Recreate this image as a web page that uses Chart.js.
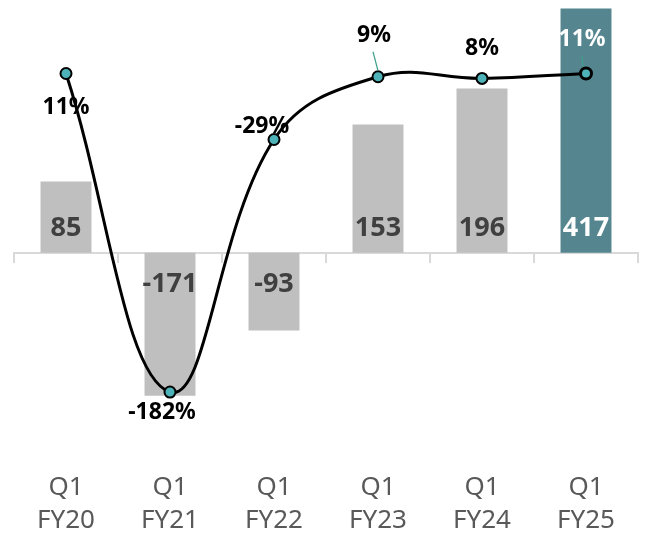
<!DOCTYPE html>
<html>
<head>
<meta charset="utf-8">
<script src="https://cdn.jsdelivr.net/npm/chart.js@4/dist/chart.umd.min.js"></script>
<style>
  html, body { margin: 0; padding: 0; background: #ffffff; }
  #wrap { width: 648px; height: 537px; }
</style>
</head>
<body>
<div id="wrap"><canvas id="c" width="648" height="537"></canvas></div>
<script>
// ---- Data ----
const quarters = ['Q1', 'Q1', 'Q1', 'Q1', 'Q1', 'Q1'];
const fiscalYears = ['FY20', 'FY21', 'FY22', 'FY23', 'FY24', 'FY25'];
const barValues = [85, -171, -93, 153, 196, 417];
const marginPct = [11, -182, -29, 9, 8, 11];

const labels = quarters.map((q, i) => [q, fiscalYears[i]]);

// ---- Styles ----
const GRAY_BAR = '#BFBFBF';
const TEAL_BAR = '#55868F';
const barColors = barValues.map((v, i) => i === barValues.length - 1 ? TEAL_BAR : GRAY_BAR);
const barLabelColors = barValues.map((v, i) => i === barValues.length - 1 ? '#FFFFFF' : '#404040');
const pctLabelColors = marginPct.map((v, i) => i === marginPct.length - 1 ? '#FFFFFF' : '#000000');
// label placement relative to each line point (dx, dy of text centre)
const pctOffsets = [[0, 34], [-8, 20], [-12, -13], [-4, -41], [0, -30], [-4, -34]];
const leaderLines = { 3: [[-5, -25], [0, -6]], 5: [[-4, -17], [-3, -7]] };

const labelPlugin = {
  id: 'valueLabels',
  afterDatasetsDraw(chart) {
    const ctx = chart.ctx;
    const yScale = chart.scales.y;
    const zeroY = yScale.getPixelForValue(0);
    const barMeta = chart.getDatasetMeta(1);
    const lineMeta = chart.getDatasetMeta(0);
    ctx.save();
    ctx.textAlign = 'center';
    ctx.textBaseline = 'middle';
    // bar labels
    ctx.font = 'bold 27px "Noto Sans"';
    barMeta.data.forEach((bar, i) => {
      const v = barValues[i];
      const y = v >= 0 ? zeroY - 24 : zeroY + 32;
      ctx.fillStyle = barLabelColors[i];
      ctx.fillText(String(v), bar.x, y);
    });
    // leader lines
    ctx.strokeStyle = '#3FA08C';
    ctx.lineWidth = 1.2;
    Object.keys(leaderLines).forEach(k => {
      const p = lineMeta.data[k];
      const [[x1, y1], [x2, y2]] = leaderLines[k];
      ctx.beginPath();
      ctx.moveTo(p.x + x1, p.y + y1);
      ctx.lineTo(p.x + x2, p.y + y2);
      ctx.stroke();
    });
    // percent labels
    ctx.font = 'bold 23px "Noto Sans"';
    lineMeta.data.forEach((pt, i) => {
      const [dx, dy] = pctOffsets[i];
      ctx.fillStyle = pctLabelColors[i];
      ctx.fillText(marginPct[i] + '%', pt.x + dx, pt.y + dy);
    });
    ctx.restore();
  }
};

new Chart(document.getElementById('c'), {
  type: 'bar',
  data: {
    labels: labels,
    datasets: [
      {
        type: 'line',
        label: 'Margin',
        data: marginPct,
        yAxisID: 'y1',
        xAxisID: 'x',
        order: 0,
        borderColor: '#000000',
        borderWidth: 3,
        tension: 0.4,
        pointRadius: 5.5,
        pointBackgroundColor: '#4DB3B8',
        pointBorderColor: '#000000',
        pointBorderWidth: marginPct.map((v, i) => i === marginPct.length - 1 ? 3 : 2),
        fill: false
      },
      {
        type: 'bar',
        label: 'Value',
        data: barValues,
        yAxisID: 'y',
        xAxisID: 'x',
        order: 1,
        backgroundColor: barColors,
        borderWidth: 0,
        categoryPercentage: 1,
        barPercentage: 0.49,
        clip: 0
      }
    ]
  },
  options: {
    responsive: false,
    animation: false,
    layout: { padding: { top: 6, left: 14, right: 10, bottom: 0 } },
    plugins: {
      legend: { display: false },
      tooltip: { enabled: false }
    },
    scales: {
      x: {
        type: 'category',
        position: 'bottom',
        offset: true,
        grid: { display: false, drawTicks: false },
        border: { display: false },
        ticks: {
          padding: 0,
          color: '#595959',
          font: { family: '"Noto Sans"', size: 26, lineHeight: 1.27 },
          maxRotation: 0,
          autoSkip: false
        }
      },
      x2: {
        type: 'category',
        axis: 'x',
        labels: labels,
        position: { y: 0 },
        offset: true,
        grid: {
          display: true,
          offset: true,
          drawOnChartArea: false,
          drawTicks: true,
          tickLength: 9,
          color: '#D9D9D9',
          lineWidth: 2
        },
        border: { display: true, color: '#D9D9D9', width: 2 },
        ticks: { display: false }
      },
      y: {
        display: false,
        min: -260.7,
        max: 291.6
      },
      y1: {
        display: false,
        min: -229.8,
        max: 50.36
      }
    }
  },
  plugins: [labelPlugin]
});
</script>
</body>
</html>
